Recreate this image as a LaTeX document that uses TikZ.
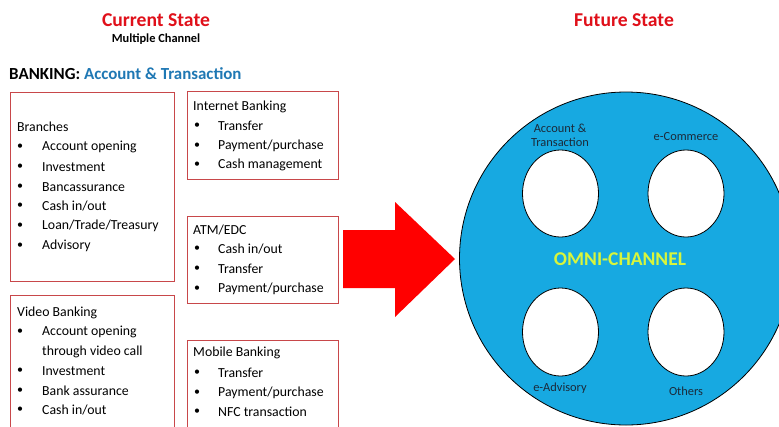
\documentclass[tikz,border=0pt]{standalone}
\usepackage{fontspec}
\setmainfont{Carlito}
\definecolor{boxred}{HTML}{C8474A}
\definecolor{titlered}{HTML}{E0101A}
\definecolor{bankblue}{HTML}{1F78B4}
\definecolor{omniblue}{HTML}{17A9E1}
\definecolor{omniyellow}{HTML}{D8F53C}
\definecolor{arrowred}{HTML}{FF0000}
\definecolor{labeltext}{HTML}{1B2A3A}
\tikzset{
  chbox/.style={draw=boxred, line width=0.8pt},
  txt/.style={anchor=west, inner sep=0pt, font=\fontsize{13.8}{15}\selectfont},
  bul/.style={anchor=center, inner sep=0pt, font=\fontsize{12}{14}\selectfont},
  hole/.style={draw=black, fill=white, line width=0.8pt},
  clabel/.style={inner sep=0pt, font=\fontsize{12.4}{14}\selectfont, text=labeltext, align=center}
}
\begin{document}
\begin{tikzpicture}[x=1pt,y=-1pt]
\useasboundingbox (0,0) rectangle (779,426);
\clip (0,0) rectangle (779,426);
\fill[white] (0,0) rectangle (779,426);

% titles
\node[inner sep=0pt, font=\bfseries\fontsize{19.6}{21}\selectfont, text=titlered] (cur) at (156,20) {Current State};
\node[inner sep=0pt, font=\bfseries\fontsize{12.4}{14}\selectfont] (mult) at (156,39) {Multiple Channel};
\node[inner sep=0pt, font=\bfseries\fontsize{19.6}{21}\selectfont, text=titlered] (fut) at (624,20) {Future State};
\node[anchor=west, inner sep=0pt, font=\bfseries\fontsize{16.9}{18}\selectfont] (bank) at (9,74) {BANKING: \textcolor{bankblue}{Account \& Transaction}};

% boxes
\draw[chbox] (10,92) rectangle (174,281);
\draw[chbox] (187,91) rectangle (338,179);
\draw[chbox] (187,216) rectangle (338,303);
\draw[chbox] (10,295) rectangle (174,440);
\draw[chbox] (187,340) rectangle (338,440);

% Branches
\node[txt] (br) at (17,127) {Branches};
\foreach \y/\t in {147/{Account opening},167/{Investment},187/{Bancassurance},206/{Cash in/out},226/{Loan/Trade/Treasury},246/{Advisory}}{
  \node[bul] at (20,\y) {•};
  \node[txt] at (42,\y) {\t};
}
% Internet Banking
\node[txt] (ib) at (193,107) {Internet Banking};
\foreach \y/\t in {126/{Transfer},146/{Payment/purchase},165/{Cash management}}{
  \node[bul] at (197,\y) {•};
  \node[txt] at (218,\y) {\t};
}
% ATM/EDC
\node[txt] (atm) at (193,230) {ATM/EDC};
\foreach \y/\t in {249/{Cash in/out},269/{Transfer},289/{Payment/purchase}}{
  \node[bul] at (197,\y) {•};
  \node[txt] at (218,\y) {\t};
}
% Video Banking
\node[txt] (vb) at (17,313) {Video Banking};
\foreach \y/\t in {332/{Account opening},371/{Investment},391/{Bank assurance},410/{Cash in/out}}{
  \node[bul] at (20,\y) {•};
  \node[txt] at (42,\y) {\t};
}
\node[txt] at (42,352) {through video call};
% Mobile Banking
\node[txt] (mb) at (193,353) {Mobile Banking};
\foreach \y/\t in {373/{Transfer},393/{Payment/purchase},412/{NFC transaction}}{
  \node[bul] at (197,\y) {•};
  \node[txt] at (218,\y) {\t};
}

% big arrow
\fill[arrowred] (343,230) -- (395,230) -- (395,202) -- (455,259) -- (395,317) -- (395,288) -- (343,288) -- cycle;

% omni-channel circle
\draw[fill=omniblue, draw=black, line width=0.8pt] (626,258.5) circle (166.5);
\draw[hole] (560.5,193.5) ellipse (38 and 43.5);
\draw[hole] (686,193.5) ellipse (38 and 43.5);
\draw[hole] (560.5,332) ellipse (38 and 44);
\draw[hole] (686,332) ellipse (38 and 44);

\node[clabel] (l1) at (560,135) {Account \&\\Transaction};
\node[clabel] (l2) at (686,137) {e-Commerce};
\node[clabel] (l3) at (560,388) {e-Advisory};
\node[clabel] (l4) at (686,391) {Others};
\node[inner sep=0pt, font=\bfseries\fontsize{19.5}{21}\selectfont, text=omniyellow] (omni) at (620,259) {OMNI-CHANNEL};
\end{tikzpicture}
\end{document}
